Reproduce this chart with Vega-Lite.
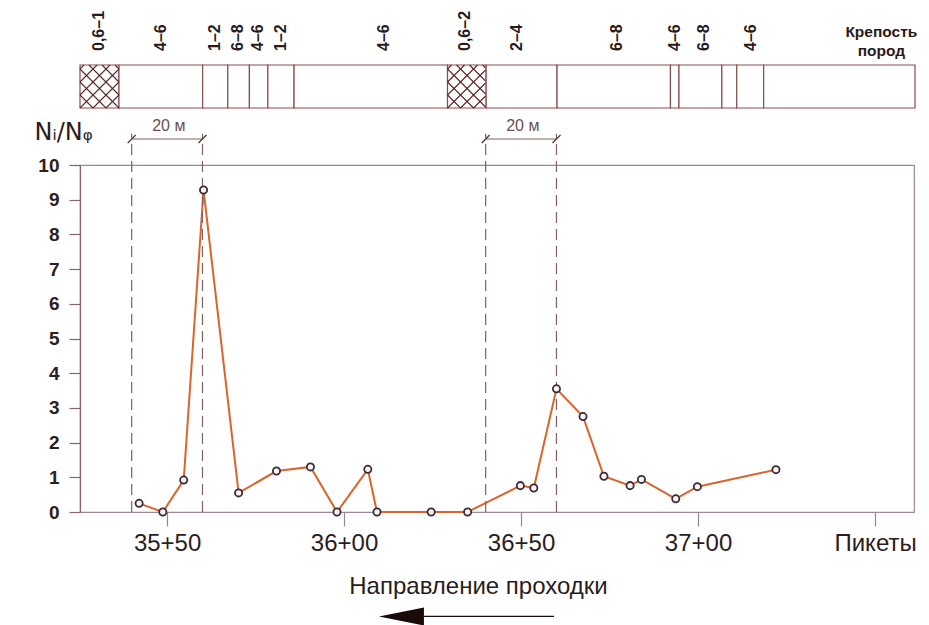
{
  "$schema": "https://vega.github.io/schema/vega-lite/v6.json",
  "padding": {"left": 33, "top": 10, "right": 8, "bottom": 2},
  "autosize": {"type": "pad"},
  "spacing": 57,
  "bounds": "flush",
  "config": {"font": "Liberation Sans", "view": {"stroke": null}},
  "datasets": {
    "series": [
      {"picket": 3542.1, "ratio": 0.25},
      {"picket": 3548.8, "ratio": 0},
      {"picket": 3554.7, "ratio": 0.92},
      {"picket": 3560.3, "ratio": 9.28},
      {"picket": 3570.2, "ratio": 0.55},
      {"picket": 3580.9, "ratio": 1.18},
      {"picket": 3590.5, "ratio": 1.30},
      {"picket": 3598.0, "ratio": 0},
      {"picket": 3606.7, "ratio": 1.23},
      {"picket": 3609.3, "ratio": 0},
      {"picket": 3624.6, "ratio": 0},
      {"picket": 3634.9, "ratio": 0},
      {"picket": 3649.8, "ratio": 0.76},
      {"picket": 3653.6, "ratio": 0.69},
      {"picket": 3660.0, "ratio": 3.55},
      {"picket": 3667.5, "ratio": 2.75},
      {"picket": 3673.4, "ratio": 1.03},
      {"picket": 3680.8, "ratio": 0.76},
      {"picket": 3684.0, "ratio": 0.94},
      {"picket": 3693.7, "ratio": 0.38},
      {"picket": 3699.8, "ratio": 0.73},
      {"picket": 3722.0, "ratio": 1.22}
    ],
    "zones": [
      {"start": 3525.4, "end": 3536.4, "hardness": "0,6–1", "label_at": 3530.9},
      {"start": 3536.4, "end": 3560.0, "hardness": "4–6", "label_at": 3548.3},
      {"start": 3560.0, "end": 3567.1, "hardness": "1–2", "label_at": 3563.6},
      {"start": 3567.1, "end": 3573.2, "hardness": "6–8", "label_at": 3570.1},
      {"start": 3573.2, "end": 3578.4, "hardness": "4–6", "label_at": 3575.7},
      {"start": 3578.4, "end": 3585.8, "hardness": "1–2", "label_at": 3582.2},
      {"start": 3585.8, "end": 3629.1, "hardness": "4–6", "label_at": 3611.3},
      {"start": 3629.1, "end": 3640.0, "hardness": "0,6–2", "label_at": 3633.9},
      {"start": 3640.0, "end": 3660.0, "hardness": "2–4", "label_at": 3648.6},
      {"start": 3660.0, "end": 3692.0, "hardness": "6–8", "label_at": 3676.8},
      {"start": 3692.0, "end": 3694.4, "hardness": "4–6", "label_at": 3693.2},
      {"start": 3694.4, "end": 3706.5, "hardness": "6–8", "label_at": 3701.6},
      {"start": 3706.5, "end": 3710.7, "hardness": "", "label_at": 3708.6},
      {"start": 3710.7, "end": 3718.3, "hardness": "4–6", "label_at": 3714.7},
      {"start": 3718.3, "end": 3761.0, "hardness": "", "label_at": 3740.0}
    ],
    "hatch": [
      {"x": 3532.74, "y": 0, "x2": 3536.4, "y2": 13},
      {"x": 3529.07, "y": 0, "x2": 3536.4, "y2": 26},
      {"x": 3525.4, "y": 0, "x2": 3536.4, "y2": 39},
      {"x": 3525.4, "y": 13, "x2": 3533.87, "y2": 43},
      {"x": 3525.4, "y": 26, "x2": 3530.2, "y2": 43},
      {"x": 3525.4, "y": 39, "x2": 3526.53, "y2": 43},
      {"x": 3525.4, "y": 13, "x2": 3529.07, "y2": 0},
      {"x": 3525.4, "y": 26, "x2": 3532.74, "y2": 0},
      {"x": 3525.4, "y": 39, "x2": 3536.4, "y2": 0},
      {"x": 3527.94, "y": 43, "x2": 3536.4, "y2": 13},
      {"x": 3531.61, "y": 43, "x2": 3536.4, "y2": 26},
      {"x": 3535.29, "y": 43, "x2": 3536.4, "y2": 39},
      {"x": 3636.44, "y": 0, "x2": 3639.83, "y2": 12},
      {"x": 3632.77, "y": 0, "x2": 3639.83, "y2": 25},
      {"x": 3629.1, "y": 0, "x2": 3639.83, "y2": 38},
      {"x": 3629.1, "y": 13, "x2": 3637.57, "y2": 43},
      {"x": 3629.1, "y": 26, "x2": 3633.9, "y2": 43},
      {"x": 3629.1, "y": 39, "x2": 3630.23, "y2": 43},
      {"x": 3629.1, "y": 13, "x2": 3632.77, "y2": 0},
      {"x": 3629.1, "y": 26, "x2": 3636.44, "y2": 0},
      {"x": 3629.1, "y": 39, "x2": 3639.83, "y2": 1},
      {"x": 3631.64, "y": 43, "x2": 3639.83, "y2": 14},
      {"x": 3635.31, "y": 43, "x2": 3639.83, "y2": 27},
      {"x": 3638.99, "y": 43, "x2": 3639.83, "y2": 40}
    ],
    "caption": [
      {"caption": ["Крепость", "пород"], "at": 3751.5}
    ],
    "marks20": [
      {"picket": 3540, "pair": "a"},
      {"picket": 3560, "pair": "a"},
      {"picket": 3640, "pair": "b"},
      {"picket": 3660, "pair": "b"}
    ],
    "spans": [
      {"from": 3540, "to": 3560, "mid": 3550.5, "label": "20 м"},
      {"from": 3640, "to": 3660, "mid": 3650.5, "label": "20 м"}
    ],
    "direction": [
      {"tail": 3659.3, "head": 3622.6, "tip": 3616.2}
    ]
  },
  "vconcat": [
    {
      "width": 835,
      "height": 97,
      "layer": [
        {
          "data": {"name": "zones"},
          "mark": {"type": "rect", "fill": "white", "stroke": "#8b4c4c", "strokeWidth": 1.2},
          "encoding": {
            "x": {"field": "start", "type": "quantitative", "scale": {"domain": [3525.4, 3761], "nice": false, "zero": false}, "axis": null},
            "x2": {"field": "end"},
            "y": {"datum": 0, "scale": {"domain": [0, 97], "nice": false, "zero": false}, "axis": null},
            "y2": {"datum": 43}
          }
        },
        {
          "data": {"name": "hatch"},
          "mark": {"type": "rule", "stroke": "#5a2a2a", "strokeWidth": 1.1},
          "encoding": {
            "x": {"field": "x", "type": "quantitative", "scale": {"domain": [3525.4, 3761], "nice": false, "zero": false}, "axis": null},
            "x2": {"field": "x2"},
            "y": {"field": "y", "type": "quantitative", "scale": {"domain": [0, 97], "nice": false, "zero": false}, "axis": null},
            "y2": {"field": "y2"}
          }
        },
        {
          "data": {"name": "zones"},
          "mark": {"type": "text", "angle": 270, "align": "left", "baseline": "middle", "fontSize": 16, "fontWeight": "bold", "color": "#2a1a1a", "font": "Liberation Sans"},
          "encoding": {
            "x": {"field": "label_at", "type": "quantitative", "scale": {"domain": [3525.4, 3761], "nice": false, "zero": false}, "axis": null},
            "y": {"datum": 57, "scale": {"domain": [0, 97], "nice": false, "zero": false}, "axis": null},
            "text": {"field": "hardness"}
          }
        },
        {
          "data": {"name": "caption"},
          "mark": {"type": "text", "align": "center", "baseline": "alphabetic", "fontSize": 15.5, "fontWeight": "bold", "lineHeight": 19, "color": "#2a1a1a", "font": "Liberation Sans"},
          "encoding": {
            "x": {"field": "at", "type": "quantitative", "scale": {"domain": [3525.4, 3761], "nice": false, "zero": false}, "axis": null},
            "y": {"datum": 71, "type": "quantitative", "scale": {"domain": [0, 97], "nice": false, "zero": false}, "axis": null},
            "text": {"field": "caption"}
          }
        }
      ]
    },
    {
      "width": 834,
      "height": 347,
      "view": {"stroke": "#a08890", "strokeWidth": 1.2},
      "layer": [
        {
          "data": {"name": "series"},
          "mark": {"type": "line", "stroke": "#d9652c", "strokeWidth": 2},
          "encoding": {
            "x": {
              "field": "picket", "type": "quantitative",
              "scale": {"domain": [3525.4, 3761], "nice": false, "zero": false},
              "axis": {
                "values": [3550, 3600, 3650, 3700, 3750],
                "tickCount": 20,
                "labelExpr": "datum.value == 3750 ? 'Пикеты' : floor(datum.value / 100) + '+' + (datum.value % 100 == 0 ? '00' : '' + (datum.value % 100))",
                "grid": false,
                "tickSize": 14,
                "tickColor": "#8a8a9a",
                "tickWidth": 1.2,
                "domainColor": "#9a8a9a",
                "domainWidth": 1.2,
                "labelFont": "Liberation Sans",
                "labelFontSize": 24,
                "labelColor": "#2b1d1d",
                "labelPadding": 5,
                "labelFlush": false,
                "labelOverlap": false,
                "title": "Направление проходки",
                "titleFont": "Liberation Sans",
                "titleFontSize": 24,
                "titleFontWeight": "normal",
                "titleColor": "#2b1d1d",
                "titleX": 398,
                "titleY": 81,
                "titleAlign": "center",
                "titleBaseline": "alphabetic"
              }
            },
            "y": {
              "field": "ratio", "type": "quantitative",
              "scale": {"domain": [0, 10], "nice": false, "zero": false},
              "axis": {"values": [0, 1, 2, 3, 4, 5, 6, 7, 8, 9, 10], "tickCount": 20, "format": "d", "labelOverlap": false, "grid": false, "tickSize": 11, "tickColor": "#8a6464", "tickWidth": 1.2, "domainColor": "#8a6464", "domainWidth": 1.2, "labelFont": "Liberation Sans", "labelFontSize": 19, "labelFontWeight": "bold", "labelColor": "#2e2020", "labelPadding": 10, "title": "Nᵢ/Nᵩ", "titleFont": "DejaVu Sans", "titleFontSize": 24, "titleFontWeight": "normal", "titleColor": "#2b1d1d", "titleAngle": 0, "titleX": -46, "titleY": -26, "titleAlign": "left", "titleBaseline": "alphabetic"}
            }
          }
        },
        {
          "data": {"name": "marks20"},
          "mark": {"type": "rule", "stroke": "#806060", "strokeWidth": 1.2, "strokeDash": [11, 6]},
          "encoding": {
            "x": {"field": "picket", "type": "quantitative", "scale": {"domain": [3525.4, 3761], "nice": false, "zero": false}},
            "y": {"datum": 0, "type": "quantitative", "scale": {"domain": [0, 10], "nice": false, "zero": false}},
            "y2": {"datum": 10.9}
          }
        },
        {
          "data": {"name": "spans"},
          "mark": {"type": "rule", "stroke": "#806060", "strokeWidth": 1.1},
          "encoding": {
            "x": {"field": "from", "type": "quantitative", "scale": {"domain": [3525.4, 3761], "nice": false, "zero": false}},
            "x2": {"field": "to"},
            "y": {"datum": 10.75, "type": "quantitative", "scale": {"domain": [0, 10], "nice": false, "zero": false}}
          }
        },
        {
          "data": {"name": "marks20"},
          "mark": {"type": "point", "shape": "M -1 1 L 1 -1", "size": 64, "stroke": "#5a3434", "strokeWidth": 1.3, "filled": false, "opacity": 1},
          "encoding": {
            "x": {"field": "picket", "type": "quantitative", "scale": {"domain": [3525.4, 3761], "nice": false, "zero": false}},
            "y": {"datum": 10.75, "type": "quantitative", "scale": {"domain": [0, 10], "nice": false, "zero": false}}
          }
        },
        {
          "data": {"name": "spans"},
          "mark": {"type": "text", "fontSize": 16, "color": "#6a5050", "baseline": "middle", "align": "center", "font": "Liberation Sans"},
          "encoding": {
            "x": {"field": "mid", "type": "quantitative", "scale": {"domain": [3525.4, 3761], "nice": false, "zero": false}},
            "y": {"datum": 11.12, "type": "quantitative", "scale": {"domain": [0, 10], "nice": false, "zero": false}},
            "text": {"field": "label"}
          }
        },
        {
          "data": {"name": "series"},
          "mark": {"type": "point", "shape": "circle", "size": 52, "filled": true, "fill": "#fbf3ef", "stroke": "#3a2a3a", "strokeWidth": 1.8, "opacity": 1},
          "encoding": {
            "x": {"field": "picket", "type": "quantitative", "scale": {"domain": [3525.4, 3761], "nice": false, "zero": false}},
            "y": {"field": "ratio", "type": "quantitative", "scale": {"domain": [0, 10], "nice": false, "zero": false}}
          }
        },
        {
          "data": {"name": "direction"},
          "mark": {"type": "rule", "stroke": "#1a0a0a", "strokeWidth": 1.2},
          "encoding": {
            "x": {"field": "head", "type": "quantitative", "scale": {"domain": [3525.4, 3761], "nice": false, "zero": false}},
            "x2": {"field": "tail"},
            "y": {"datum": -3.01, "type": "quantitative", "scale": {"domain": [0, 10], "nice": false, "zero": false}}
          }
        },
        {
          "data": {"name": "direction"},
          "mark": {"type": "point", "shape": "M -1 0 L 1 -0.4 L 1 0.4 Z", "size": 2025, "filled": true, "fill": "#1a0a0a", "strokeWidth": 0, "opacity": 1},
          "encoding": {
            "x": {"field": "tip", "type": "quantitative", "scale": {"domain": [3525.4, 3761], "nice": false, "zero": false}},
            "y": {"datum": -3.01, "type": "quantitative", "scale": {"domain": [0, 10], "nice": false, "zero": false}}
          }
        }
      ]
    }
  ]
}
